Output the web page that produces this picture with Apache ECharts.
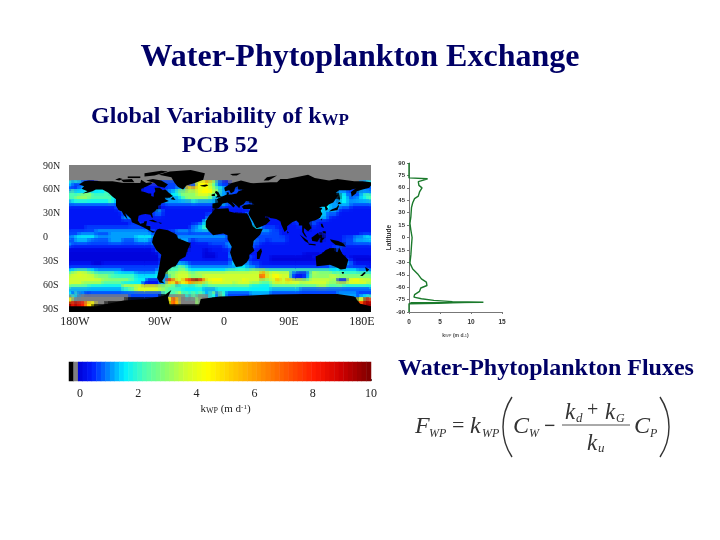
<!DOCTYPE html>
<html><head><meta charset="utf-8">
<style>html,body{margin:0;padding:0;background:#fff}#c{width:720px;height:540px}</style>
<script src="https://cdn.jsdelivr.net/npm/echarts@6/dist/echarts.min.js"></script>
</head><body><div id="c"></div>
<script>
// k_WP levels read from the map; codes: g = ice/no data, k = land
const levelValues = {k:-0.6,g:-0.3,'0':0.1,'1':0.35,'2':0.75,'3':1.15,'4':1.6,'5':2.3,'6':3.0,'7':3.7,'8':4.4,'9':5.8,R:8.0,D:9.6};
// 90 columns (4 deg, 180W to 180E), 45 rows (4 deg, 90N to 90S)
const oceanRows = [
"gggggggggg gggggggggg gggggggggg gggggggggg gggggggggg gggggggggg gggggggggg gggggggggg gggggggggg",
"gggggggggg gggggggggg gggggggggg gggggggggg gggggggggg gggggggggg gggggggggg gggggggggg gggggggggg",
"gggggggggg gggggggggg gggggggggg gggggggggg gggggggggg gggggggggg gggggggggg gggggggggg gggggggggg",
"gggggggggg gggggggggg gggggggggg gggggggggg gggggggggg gggggggggg gggggggggg gggggggggg gggggggggg",
"gggggggggg gggggggggg gggggggggg gggggggggg gggggggggg gggggggggg gggggggggg gggggggggg gggggggggg",
"4343221kkk kkkkkkkkkk kkkkkkkk22 2kkkkkkk78 8976321kkk kkkkkkkkkk kkkkkkkkkk kkkkkkkkkk kkkkkkkk34",
"3212321kkk kkkkkkkkkk kkk1111122 22kkkkk288 8865322kkk kkkkkkkkkk kkkkkkkkkk kkkkkkkkkk kkkkkkk343",
"2223333kkk kkkkkkkkkk kkk1111112 2233398987 8876543kkk kkkkkkkkkk kkkkkkkkkk kkkkkkkkkk 3222kkkkk2",
"5544455444 453kkkkkkk kk1111kkkk 3456666678 8886kk3222 2kkkkkkkkk kkkkkkkkkk kkkkkkkkkk k3322kk333",
"5556666555 5554kkkkkk kkk111kkkk k445666677 7765kk3kkk kkkkkkkkkk kkkkkkkkkk kkkkkkkkkk kk4232k455",
"5566665555 5554kkkkkk kkkkkkkkkk kk34566666 6653kkkkkk kkkkkkkkkk kkkkkkkkkk kkkkkkkkkk kk43233445",
"3444444444 44543kkkkk kkkkkkkk33 3333333433 333kkkkkkk kkkkkkkkkk kkkkkkkkkk kkkkkkkk33 k443333333",
"2222222222 2222kkkkkk kkkkkkkk12 2222222222 222kkk3222 kk22kkkkkk kkkkkkkkkk kkkkkk4k33 k333222222",
"1111111111 11112kkkkk kkkkkkkk11 1111111111 111k111111 1kkkkkkkkk kkkkkkkkkk kkkkk34k3k 3222111111",
"1111111111 1111123kkk kkkkkkk311 1111111111 11kkkkkk11 k11kkkkkkk kkkkkkkkkk kkkkk43k33 2111111111",
"1111111111 1111112k3k k11112k211 1111111111 12kkkkkkkk kkkk3kkkkk kkkkkkkkkk kkkkk43222 1111111111",
"1111111111 1111113k3k k111111111 1111111111 13kkkkkkkk kkkk3kkkkk 11kkkkkkkk kkkkk33211 1111111111",
"1111111111 1111111111 kk11kk1111 1111111111 4kkkkkkkkk kkkk3kkkkk 111kkkk21k kkk2111111 1111111111",
"1111111111 1111111122 2kkk111111 1111111223 4kkkkkkkkk kkkkk3kk11 1111kk112k kkk21k1111 1111111111",
"1111122222 2222222222 222kk11111 1111112334 5kkkkkkkkk kkkkkk4322 2211kk111k kkkk111k11 1111111111",
"2222222233 3333333333 33332kkkkk k233332333 33kkkkkkkk kkkkkkkkk3 22211k1111 1k1kkk1k11 1111111111",
"2223333322 2233333333 333332kkkk kkk2222222 222kk22kkk kkkkkkk222 2221111111 1kk1kkk111 1111111222",
"3344444433 3333333333 444443kkkk kkk3333333 33333332kk kkkkkk2222 2222211111 1k1kkkk1k1 1122233344",
"2233332222 2233332222 333322kkkk kkkkkkk122 22222222kk kkkkk32221 2222211111 1kk1kk1k11 kkk2233333",
"3222222222 2222222222 222223kkkk kkkkkkk111 11222223kk kkkkk22111 1111111111 11kk11111k kkk2222222",
"1111111111 1111111111 1111113kkk kkkkkkk111 111111223k kkkkk21k11 1111111111 11111111kk 2k11111111",
"0000000000 0000000000 0000012kkk kkkkkk1111 001111112k kkkkk1kk11 1111111111 111111kkkk kk11111111",
"0000000000 0000000000 00000002kk kkkkk11111 000011113k kkkk11kk11 1111111111 0000kkkkkk kk11111111",
"0000000000 0000000000 00000002kk kkkk111111 000011113k kkkk21kk11 0000000000 0001kkkkkk kkk1000000",
"0000000000 0000000000 00000001kk kkk1111111 1111111123 kkk2111111 0000000000 0000kkkkkk kkk2100000",
"1111111000 1111111111 11111112kk kk34332222 2222222234 kkk3222111 1111111111 1111kkkkkk kkk3211111",
"2222222222 2222222222 22222223kk kk56543333 3333333333 4443332222 2222222222 222222223k kkk22222kk",
"4455554433 3333332222 2222223kkk 5556654444 4444444555 5555666665 5555555555 5555555544 4k44443kk3",
"6778776655 5555444444 3333334kkk 6677776677 7777777777 7777777997 7877773211 1367666665 6555555kk5",
"7777777766 6655555555 4444444kk3 6677776666 7777777777 7777777R97 7887773111 2466666677 6666666666",
"7777777777 6666666655 44411113kk R9779RRDDR 9788887777 7787777666 7797798777 6677777766 1117888777",
"7777666666 5555554444 44111113k7 87R7889777 6677777776 7777666555 6777777776 7777777666 7777777776",
"5555554444 4444447777 8888887766 5544444455 4555555555 5555444444 5555555555 5555666555 5544444444",
"3333333333 3333334455 7777777665 k555444444 3333444444 4444444444 3333333332 2222222222 2222222222",
"4252312222 2222222222 2222222kk5 k567464646 4356264222 2222333333 2222222222 2222222222 3333332222",
"g53ggggggg gggggggkkk kkkkkkkkkk ggggg4g5gg gg4kkkkkkk kkkkkkkkkk kkkkkkkkkk kkkkkkkkkk kkkkkkkk45",
"8ggggggggg gkkkkkkkkk kkkkkkkkkk 8R8ggggg6g gkkkkkkkkk kkkkkkkkkk kkkkkkkkkk kkkkkkkkkk kkkkkkk8DR",
"DRDRR98kkk kkkkkkkkkk kkkkkkkkkk kkkkkkkkkk kkkkkkkkkk kkkkkkkkkk kkkkkkkkkk kkkkkkkkkk kkkkkkkRDD",
"kkkkkkkkkk kkkkkkkkkk kkkkkkkkkk kkkkkkkkkk kkkkkkkkkk kkkkkkkkkk kkkkkkkkkk kkkkkkkkkk kkkkkkkkkk",
"kkkkkkkkkk kkkkkkkkkk kkkkkkkkkk kkkkkkkkkk kkkkkkkkkk kkkkkkkkkk kkkkkkkkkk kkkkkkkkkk kkkkkkkkkk"
];
// land outlines as lon/lat pairs
const landPolygons = [
[[-168,66],[-162,70],[-156,71],[-141,70],[-128,70],[-115,68],[-108,68],[-95,68],[-94,72],[-88,68],[-82,69],[-81,67],[-87,64],[-94,61],[-94,58],[-90,57],[-85,55],[-82,55],[-82,52],[-79,51],[-79,55],[-77,58],[-78,62],[-72,62],[-68,59],[-65,60],[-61,56],[-56,52],[-60,50],[-66,50],[-65,48],[-61,46],[-66,44],[-70,43],[-71,41],[-74,40],[-76,37],[-76,35],[-81,31],[-80,26],[-81,25],[-83,29],[-89,30],[-94,29],[-97,28],[-98,22],[-95,18],[-91,19],[-90,21],[-87,21],[-88,16],[-83,15],[-83,10],[-79,9],[-77,8],[-80,7],[-85,10],[-92,14],[-96,16],[-105,20],[-106,24],[-113,31],[-110,23],[-115,29],[-117,33],[-121,35],[-124,40],[-124,48],[-128,51],[-133,56],[-140,60],[-148,60],[-152,58],[-158,56],[-164,55],[-158,58],[-165,61],[-162,64]],
[[-80,73],[-70,71],[-62,66],[-66,62],[-74,64],[-78,68],[-88,71]],
[[-118,72],[-105,73],[-102,69],[-115,69]],
[[-90,80],[-70,83],[-62,82],[-78,77],[-90,76]],
[[-125,72],[-120,74],[-116,73],[-120,71]],
[[-110,76],[-95,76],[-95,74],[-110,74]],
[[-73,78],[-60,82],[-35,84],[-18,80],[-20,72],[-30,68],[-40,65],[-44,60],[-50,63],[-54,68],[-58,75]],
[[-24,65],[-16,66],[-14,65],[-18,63.5],[-22,64]],
[[-5,58.5],[-2,57],[0,53],[1,51],[-5,50],[-3,53],[-6,56]],
[[-10,54],[-6,55],[-6,52],[-10,52]],
[[12,79],[25,80],[20,77],[15,77]],
[[-9,37],[-9,43],[-1,44],[-4,48],[2,51],[8,54],[8,57],[11,56],[10,54],[14,54],[20,55],[22,58],[29,60],[22,60],[21,64],[24,66],[18,62],[17,58],[13,55],[11,59],[6,58],[5,62],[14,68],[25,71],[40,67],[44,68],[60,69],[68,69],[72,73],[80,73],[95,76],[105,78],[113,74],[130,71],[140,73],[160,70],[170,70],[180,69],[180,65],[178,62],[170,60],[163,58],[162,55],[157,51],[156,57],[163,62],[155,59],[142,59],[135,54],[141,53],[135,44],[130,42],[127,39],[129,36],[126,34],[125,39],[121,39],[118,38],[122,37],[120,34],[122,30],[119,25],[113,22],[108,21],[106,19],[109,13],[105,9],[100,13],[100,8],[104,1],[101,3],[98,8],[98,16],[94,16],[94,19],[91,22],[86,20],[80,15],[80,11],[77,8],[73,17],[72,21],[67,24],[60,25],[57,27],[51,28],[48,30],[50,26],[52,24],[56,26],[60,22],[55,17],[45,13],[43,13],[39,21],[35,28],[34,31],[36,36],[28,36],[26,39],[29,41],[35,42],[41,41],[38,45],[31,46],[28,42],[24,40],[23,37],[20,40],[14,45],[18,40],[16,38],[12,42],[9,44],[3,43],[0,39],[-2,37],[-5,36]],
[[-6,36],[10,37],[11,33],[20,31],[32,31],[34,28],[37,21],[39,15],[43,12],[51,12],[48,5],[40,-3],[39,-10],[41,-15],[35,-20],[35,-24],[32,-29],[26,-34],[19,-35],[15,-27],[12,-17],[14,-10],[9,-1],[9,4],[4,6],[-4,5],[-8,4],[-13,9],[-17,14],[-17,21],[-13,28],[-10,31]],
[[49,-12],[50,-16],[47,-25],[44,-25],[44,-17]],
[[-72,12],[-62,10],[-52,5],[-50,0],[-44,-2],[-35,-6],[-39,-14],[-41,-22],[-48,-26],[-53,-34],[-57,-35],[-62,-39],[-65,-42],[-66,-47],[-69,-52],[-66,-55],[-72,-54],[-75,-48],[-73,-38],[-70,-20],[-76,-14],[-81,-5],[-80,1],[-77,8],[-75,11]],
[[114,-22],[122,-18],[126,-14],[131,-12],[136,-12],[136,-15],[140,-17],[142,-11],[146,-19],[153,-26],[150,-37],[144,-38],[138,-35],[131,-32],[124,-33],[115,-34]],
[[145,-41],[148,-41],[147,-43.5],[145.5,-43]],
[[173,-35],[178,-38],[175,-41],[174,-39]],
[[172,-41],[174,-42],[170,-46],[167,-46]],
[[131,-1],[141,-3],[147,-6],[150,-10],[143,-9],[138,-8],[133,-4]],
[[109,1],[117,7],[119,1],[116,-4],[110,-3]],
[[95,5],[104,-2],[106,-6],[101,-3]],
[[105,-6],[114,-7],[114,-8.5],[106,-7.5]],
[[120,1],[125,1],[122,-2],[122,-5],[119,-5]],
[[120,18],[122,18],[124,13],[121,14]],
[[122,9],[126,9],[126,6],[123,7]],
[[130,33],[135,34],[140,35],[142,40],[141,41],[139,38],[133,35.5]],
[[140,42],[142,45],[145,43],[141,42]],
[[142,54],[143,49],[142,46],[141,50]],
[[80,9.5],[82,7],[80.5,6]],
[[-85,22],[-80,23],[-74,20],[-78,20]],
[[-74,20],[-69,19],[-71,18]],
[[120,23],[122,25],[121,22]],
[[-59,48],[-56,51],[-53,47]],
[[52,71],[56,75],[68,77],[58,71]],
[[-180,-83],[-147,-83],[-115,-76],[-87,-74],[-67,-70],[-58,-63],[-62,-72],[-60,-82],[-25,-82],[-23,-74],[0,-71],[30,-70],[60,-68.5],[100,-68],[140,-68],[160,-71],[167,-80],[180,-83],[180,-90],[-180,-90]]
];
// zonal mean profile
const profileLat = [90,80,72,71,71,69,67.5,63,60,55,50,47,42,36,25,17,9,0,-10,-21,-31,-38,-44,-50,-54,-58,-61,-65,-69,-72,-74,-76,-77.5,-78.3,-78.8,-78.6,-79.2,-78.9,-79.6,-79.3,-80,-80.5,-90];
const profileK   = [0,0,0,0,3,2.2,1.5,1.6,2.1,1.7,1.5,0.9,0.6,0.4,0.3,0.15,0.3,0.5,0.4,0.3,0.15,0.6,1.4,2,2.8,2.9,1.9,1.7,0.9,0.8,2,4,7,12,0.3,10,0.2,9,0.1,7,0,0,0];
// colour bar: black, grey, then 64 colormap steps
const colorbarValues = [-0.6,-0.3,0.08,0.23,0.39,0.55,0.7,0.86,1.02,1.17,1.33,1.48,1.64,1.8,1.95,2.11,2.27,2.42,2.58,2.73,2.89,3.05,3.2,3.36,3.52,3.67,3.83,3.98,4.14,4.3,4.45,4.61,4.77,4.92,5.08,5.23,5.39,5.55,5.7,5.86,6.02,6.17,6.33,6.48,6.64,6.8,6.95,7.11,7.27,7.42,7.58,7.73,7.89,8.05,8.2,8.36,8.52,8.67,8.83,8.98,9.14,9.3,9.45,9.61,9.77,9.92];
const latLabels = {'90':'90N','60':'60N','30':'30N','0':'0','-30':'30S','-60':'60S','-90':'90S'};
const lonLabels = ['180W','90W','0','90E','180E'];
const lonLabelX = [75,160,224,289,362];
const colorStops = [[0,[0,0,215]],[0.5,[0,30,255]],[1.0,[0,125,255]],[1.6,[0,240,255]],[2.3,[80,255,175]],[3.0,[140,255,110]],[3.7,[210,255,45]],[4.4,[255,255,0]],[6.0,[255,160,0]],[8.1,[255,25,0]],[9.0,[205,0,0]],[10,[125,0,0]]];

function colorAt(v){
  for(let i=1;i<colorStops.length;i++){
    const a=colorStops[i-1],b=colorStops[i];
    if(v<=b[0]){const t=(v-a[0])/(b[0]-a[0]);
      return 'rgb('+a[1].map((c,j)=>Math.round(c+(b[1][j]-c)*t)).join(',')+')';}
  }
  return 'rgb(125,0,0)';
}
const pieces=[{max:-0.45,color:'#000'},{min:-0.45,max:-0.01,color:'#808080'}];
for(let i=0;i<64;i++){const lo=i*10/64,hi=(i+1)*10/64;pieces.push({min:lo,max:hi,color:colorAt((lo+hi)/2)});}

// land codes next to a sea cell take that cell's code so that the outlines give the coast
const grid=oceanRows.map(r=>r.replace(/ /g,''));
const codeAt=(x,y)=>(grid[y]&&grid[y][x])||'k';
const mapCells=[];
grid.forEach((s,y)=>{for(let x=0;x<90;x++){
  let c=codeAt(x,y);
  if(c==='k'){const n=[[x-1,y],[x+1,y],[x,y-1],[x,y+1]].map(p=>codeAt(p[0],p[1])).find(q=>q!=='k');if(n)c=n;}
  mapCells.push([-178+4*x,88-4*y,levelValues[c]]);
}});
const idx=n=>Array.from({length:n},(_,i)=>i);
const hidden={show:false};
const ser='"Liberation Serif",serif';
const navy='#000066';
const chart=echarts.init(document.getElementById('c'),null,{renderer:'canvas'});
const eqText=(t,x,y,size,extra)=>({type:'text',x,y,style:Object.assign({text:t,font:'italic '+size+'px '+ser,fill:'#333',textVerticalAlign:'middle'},extra||{})});
const paren=(x1,xc,y1,y2)=>({type:'bezierCurve',shape:{x1,y1,x2:x1,y2,cpx1:xc,cpy1:y1+(y2-y1)*0.3,cpx2:xc,cpy2:y1+(y2-y1)*0.7},style:{stroke:'#333',lineWidth:1.4,fill:'none'}});
// half is the half-size of a cell's rectangle in degrees; the larger wash softens the cell edges
const cellRender=(half,opacity)=>(params,api)=>{
  const a=api.coord([api.value(0)-half,api.value(1)+half]),b=api.coord([api.value(0)+half,api.value(1)-half]);
  const x=Math.floor(a[0]),y=Math.floor(a[1]);
  return {type:'rect',shape:{x,y,width:Math.ceil(b[0])-x,height:Math.ceil(b[1])-y},style:{fill:api.visual('color'),opacity}};
};
chart.setOption({
  animation:false,backgroundColor:'#fff',
  title:[
    {text:'Water-Phytoplankton Exchange',left:355,top:37,textAlign:'center',textStyle:{fontFamily:ser,fontWeight:'bold',fontSize:32,color:navy}},
    {text:'{a|Global Variability of k}{s|WP}',left:215,top:99,textAlign:'center',textStyle:{rich:{a:{fontFamily:ser,fontWeight:'bold',fontSize:24,color:navy},s:{fontFamily:ser,fontWeight:'bold',fontSize:17,color:navy,padding:[8,0,0,0]}}}},
    {text:'PCB 52',left:215,top:129,textAlign:'center',textStyle:{fontFamily:ser,fontWeight:'bold',fontSize:23.5,color:navy}},
    {text:'Water-Phytoplankton Fluxes',left:541,top:352,textAlign:'center',textStyle:{fontFamily:ser,fontWeight:'bold',fontSize:24,color:navy}}
  ],
  visualMap:{type:'piecewise',show:false,seriesIndex:[0,1,4],dimension:2,pieces},
  grid:[
    {left:69,top:165,width:302,height:147},
    {left:69,top:166,width:302,height:143},
    {left:409,top:163,width:93,height:149},
    {left:69,top:362,width:302,height:19},
    {left:80,top:362,width:291,height:19}
  ],
  xAxis:[
    {gridIndex:0,type:'value',min:-180,max:180,show:false},
    {gridIndex:1,type:'value',min:-180,max:180,show:false},
    {gridIndex:2,type:'value',min:0,max:15,interval:5,splitLine:hidden,
      axisLine:{onZero:false,lineStyle:{color:'#777',width:1}},axisTick:{length:2,lineStyle:{color:'#777'}},
      axisLabel:{fontFamily:'"Liberation Sans",sans-serif',fontWeight:'bold',fontSize:6.5,color:'#333',margin:7},
      name:'{k|k}{s|WP}{k| (m d}{u|-1}{k|)}',nameLocation:'middle',nameGap:21,
      nameTextStyle:{rich:{k:{fontFamily:'"Liberation Sans"',fontWeight:'bold',fontSize:5,color:'#444'},s:{fontFamily:'"Liberation Sans"',fontSize:4,color:'#444'},u:{fontFamily:'"Liberation Sans"',fontSize:4,color:'#444'}}}},
    {gridIndex:3,type:'category',data:idx(66),show:false},
    {gridIndex:4,type:'value',min:0,max:10,interval:2,splitLine:hidden,
      axisLine:{show:false},axisTick:{inside:true,length:2,lineStyle:{color:'#555'}},
      axisLabel:{fontFamily:ser,fontSize:12,color:'#222',margin:7},
      name:'{k|k}{s|WP}{k| (m d}{u|-1}{k|)}',nameLocation:'middle',nameGap:22,
      nameTextStyle:{rich:{k:{fontFamily:ser,fontSize:11,color:'#222'},s:{fontFamily:ser,fontSize:8,color:'#222',padding:[4,0,0,0]},u:{fontFamily:ser,fontSize:7,color:'#222',padding:[0,0,4,0]}}}}
  ],
  yAxis:[
    {gridIndex:0,type:'value',min:-90,max:90,show:false},
    {gridIndex:1,type:'value',min:-90,max:90,interval:30,splitLine:hidden,axisLine:{show:false},axisTick:{show:false},
      axisLabel:{fontFamily:ser,fontSize:10,color:'#222',align:'left',margin:26,formatter:v=>latLabels[String(v)]}},
    {gridIndex:2,type:'value',min:-90,max:90,interval:15,splitLine:hidden,
      axisLine:{lineStyle:{color:'#777',width:1}},axisTick:{length:2,lineStyle:{color:'#777'}},
      axisLabel:{fontFamily:'"Liberation Sans",sans-serif',fontWeight:'bold',fontSize:6,color:'#333',margin:4},
      name:'Latitude',nameLocation:'middle',nameGap:11,nameRotate:90,nameTextStyle:{fontFamily:'"Liberation Sans",sans-serif',fontWeight:'bold',fontSize:6.5,color:'#333'}},
    {gridIndex:3,type:'category',data:[0],show:false},
    {gridIndex:4,type:'value',min:0,max:1,show:false}
  ],
  series:[
    {type:'custom',xAxisIndex:0,yAxisIndex:0,silent:true,clip:true,progressive:0,
     data:mapCells,encode:{x:0,y:1},renderItem:cellRender(2,1)},
    {type:'custom',xAxisIndex:0,yAxisIndex:0,silent:true,clip:true,progressive:0,
     data:mapCells,encode:{x:0,y:1},renderItem:cellRender(3.4,0.45)},
    {type:'custom',xAxisIndex:0,yAxisIndex:0,silent:true,clip:true,
     data:landPolygons.map((p,i)=>[p[0][0],p[0][1],i]),encode:{x:0,y:1},
     renderItem:(params,api)=>{const poly=landPolygons[api.value(2)];
       return {type:'polygon',shape:{points:poly.map(p=>api.coord(p))},style:{fill:'#000'}};}},
    {type:'line',xAxisIndex:2,yAxisIndex:2,showSymbol:false,symbol:'none',silent:true,
     data:profileLat.map((lat,i)=>[profileK[i],lat]),lineStyle:{color:'#1b7a2c',width:1.4}},
    {type:'heatmap',xAxisIndex:3,yAxisIndex:3,data:colorbarValues.map((v,i)=>[i,0,v]),progressive:0,silent:true,itemStyle:{borderWidth:0}}
  ],
  graphic:{elements:[
    ...lonLabels.map((t,i)=>({type:'text',x:lonLabelX[i],y:322,style:{text:t,font:'12px '+ser,fill:'#222',textAlign:'center',textVerticalAlign:'middle'}})),
    eqText('F',415,427,24),eqText('WP',429,434,12),
    eqText('=',452,426,22,{font:'22px '+ser}),
    eqText('k',470,427,24),eqText('WP',482,434,12),
    paren(512,500,397,457),
    eqText('C',513,427,24),eqText('W',529,434,12),
    eqText('\u2212',544,427,22,{font:'bold 20px '+ser}),
    eqText('k',565,413,23),eqText('d',576,419,13),
    eqText('+',587,411,20,{font:'20px '+ser}),
    eqText('k',605,413,23),eqText('G',616,419,12),
    {type:'line',shape:{x1:562,y1:425,x2:630,y2:425},style:{stroke:'#555',lineWidth:1}},
    eqText('k',587,444,23),eqText('u',598,449,13),
    eqText('C',634,427,24),eqText('P',650,434,12),
    paren(660,672,397,457)
  ]}
});
</script></body></html>
